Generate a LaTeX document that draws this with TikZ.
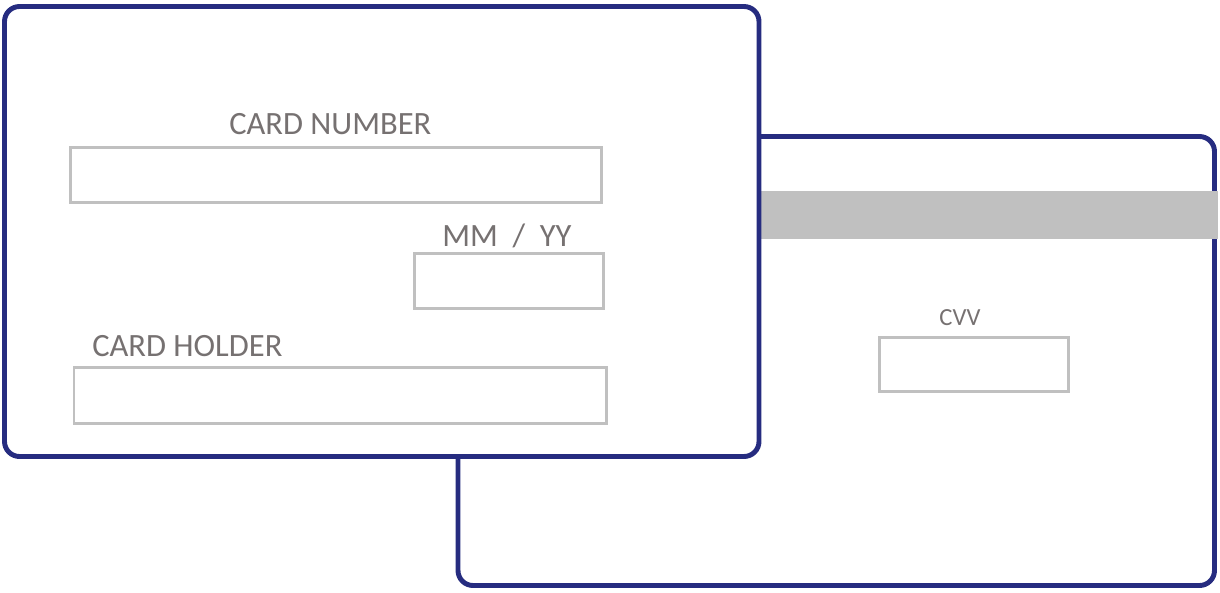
\documentclass[tikz,border=0pt]{standalone}
\usepackage{fontspec}
\setmainfont{Carlito}
\usepackage{tikz}
\usetikzlibrary{positioning}
\definecolor{cardblue}{RGB}{38,44,128}
\definecolor{fieldgray}{RGB}{192,192,192}
\definecolor{textgray}{RGB}{118,113,113}
\tikzstyle{card}=[draw=cardblue,line width=2.8pt,rounded corners=0.3cm]
\tikzstyle{field}=[draw=fieldgray,line width=1.7pt]
\tikzstyle{txt}=[textgray,inner sep=0pt,anchor=base west,font=\fontsize{18.5}{22}\selectfont]

\begin{document}
\begin{tikzpicture}[x=0.02cm,y=-0.02cm]
\useasboundingbox (0,0) rectangle (1220,592);

% Back of the card
\draw[card] (458,136.5) rectangle (1214.5,585.5);
\fill[fieldgray] (759,191) rectangle (1218,239);
\node[txt,anchor=base,font=\fontsize{14}{16}\selectfont] (cvvtxt) at (960,325) {CVV};
\draw[field] (879.5,337.5) rectangle (1068.5,391.5);

% Front of the card
\draw[card,fill=white] (4.5,6.5) rectangle (759,456.5);

% Card number
\node[txt] (numtxt) at (229,134) {CARD NUMBER};
\draw[field] (70.5,147.5) rectangle (601.5,202.5);

% Expiry
\node[txt] (exptxt) at (442,246) {MM~~/~~YY};
\draw[field] (414.5,253.5) rectangle (603.5,308.5);

% Card holder
\node[txt] (holdtxt) at (92,356) {CARD HOLDER};
\draw[field] (74,367) rectangle (606,423);

\end{tikzpicture}
\end{document}
